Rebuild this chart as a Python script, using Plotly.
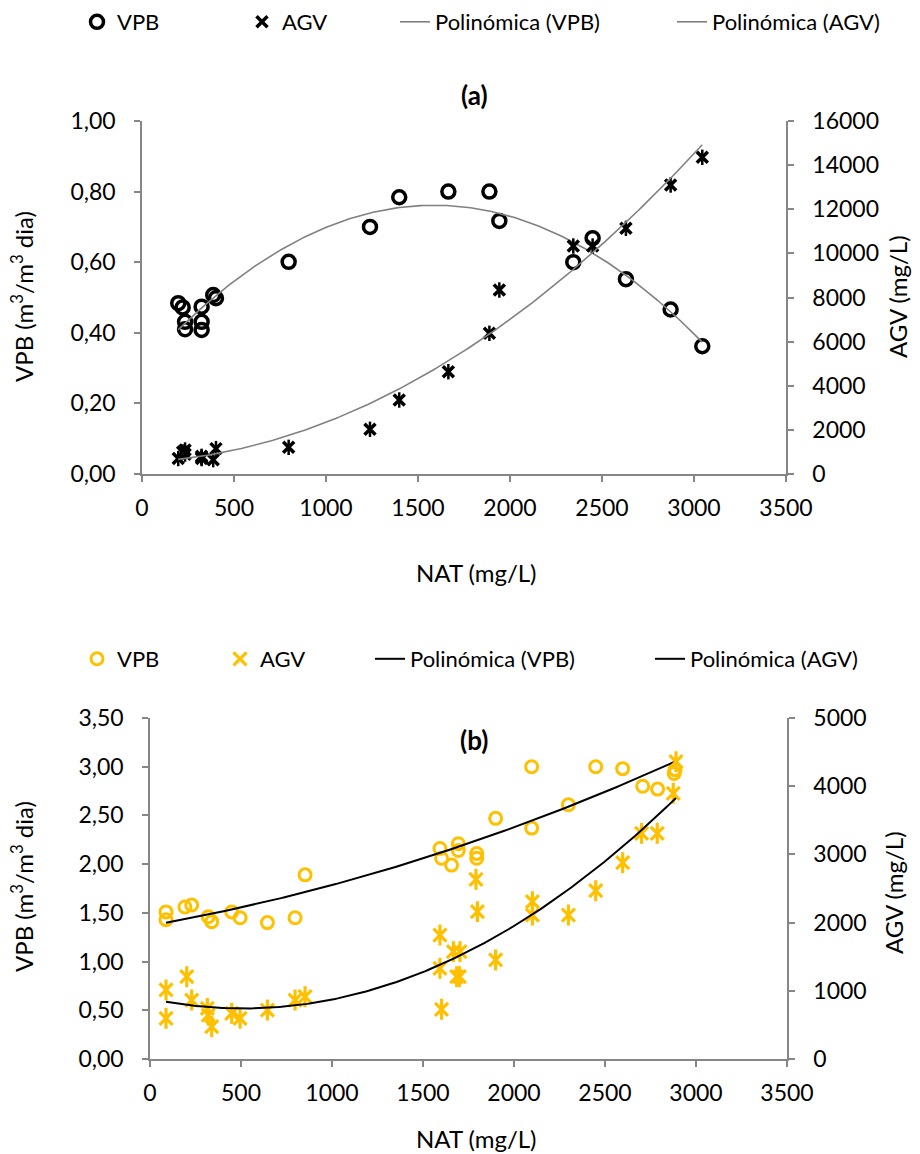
import numpy as np
import plotly.graph_objects as go

# ---------------- data ----------------
# Panel (a)
nat_a = [197, 221, 234, 234, 324, 324, 324, 387, 402, 797, 1239, 1398, 1665,
         1888, 1942, 2344, 2449, 2630, 2873, 3045]
vpb_a = [0.484, 0.472, 0.431, 0.410, 0.474, 0.431, 0.408, 0.507, 0.498, 0.601,
         0.700, 0.784, 0.800, 0.800, 0.717, 0.600, 0.668, 0.552, 0.466, 0.362]
agv_a = [700, 1000, 1088, 900, 800, 750, 700, 650, 1150, 1209, 2026, 3354, 4637,
         6377, 8340, 10334, 10334, 11135, 13099, 14354]

# Panel (b)
nat_b_vpb = [88, 88, 192, 229, 320, 339, 449, 495, 645, 797, 852, 1593, 1602,
             1694, 1694, 1657, 1795, 1795, 1899, 2097, 2097, 2299, 2449, 2597,
             2707, 2789, 2885, 2880]
vpb_b = [1.51, 1.43, 1.56, 1.58, 1.46, 1.41, 1.51, 1.45, 1.40, 1.45, 1.89, 2.16,
         2.06, 2.21, 2.14, 1.99, 2.11, 2.06, 2.47, 3.00, 2.37, 2.61, 3.00, 2.98,
         2.80, 2.77, 2.97, 2.93]
nat_b_agv = [88, 88, 202, 229, 315, 320, 339, 449, 495, 645, 797, 852, 1593, 1593,
             1602, 1667, 1703, 1685, 1700, 1791, 1799, 1899, 2101, 2101, 2299,
             2449, 2597, 2701, 2787, 2875, 2890]
agv_b = [1012, 597, 1207, 865, 743, 645, 474, 670, 597, 718, 865, 914, 1818, 1330,
         729, 1574, 1574, 1207, 1207, 2635, 2160, 1452, 2306, 2111, 2111, 2468,
         2878, 3309, 3309, 3896, 4359]

# ticks
x_ticks = [0, 500, 1000, 1500, 2000, 2500, 3000, 3500]
x_labels = ["0", "500", "1000", "1500", "2000", "2500", "3000", "3500"]
ya_ticks = [0, 0.2, 0.4, 0.6, 0.8, 1.0]
ya_labels = ["0,00", "0,20", "0,40", "0,60", "0,80", "1,00"]
y2a_ticks = [0, 2000, 4000, 6000, 8000, 10000, 12000, 14000, 16000]
y2a_labels = ["0", "2000", "4000", "6000", "8000", "10000", "12000", "14000", "16000"]
yb_ticks = [0, 0.5, 1.0, 1.5, 2.0, 2.5, 3.0, 3.5]
yb_labels = ["0,00", "0,50", "1,00", "1,50", "2,00", "2,50", "3,00", "3,50"]
y2b_ticks = [0, 1000, 2000, 3000, 4000, 5000]
y2b_labels = ["0", "1000", "2000", "3000", "4000", "5000"]

series_names = ["VPB", "AGV", "Polinómica (VPB)", "Polinómica (AGV)"]

# ---------------- styling ----------------
FONT = "Lato"
FS_TICK = 23
FS_LEG = 22
FS_TITLE = 24
W, H = 920, 1154
AX = "#868686"
GOLD = "#FFC000"
TREND_A = "#808080"


def trend(x, y, deg=2):
    c = np.polyfit(x, y, deg)
    xs = np.linspace(min(x), max(x), 200)
    return xs, np.polyval(c, xs)


fig = go.Figure()

# ---- panel (a) ----
fig.add_trace(go.Scatter(x=nat_a, y=vpb_a, mode="markers", name=series_names[0],
                         xaxis="x", yaxis="y", legend="legend",
                         marker=dict(symbol="circle-open", size=13, color="black",
                                     line=dict(width=3.5, color="black"))))
fig.add_trace(go.Scatter(x=nat_a, y=agv_a, mode="markers", name=series_names[1],
                         xaxis="x", yaxis="y2", legend="legend2",
                         marker=dict(symbol="x-thin-open", size=11, color="black",
                                     line=dict(width=3.5, color="black"))))
fig.add_trace(go.Scatter(x=nat_a, y=agv_a, mode="markers", showlegend=False,
                         xaxis="x", yaxis="y2", hoverinfo="skip",
                         marker=dict(symbol="line-ns-open", size=11, color="black",
                                     line=dict(width=2.5, color="black"))))
xs, ys = trend(nat_a, vpb_a)
fig.add_trace(go.Scatter(x=xs, y=ys, mode="lines", name=series_names[2],
                         xaxis="x", yaxis="y", legend="legend3",
                         line=dict(color=TREND_A, width=1.6)))
xs, ys = trend(nat_a, agv_a)
fig.add_trace(go.Scatter(x=xs, y=ys, mode="lines", name=series_names[3],
                         xaxis="x", yaxis="y2", legend="legend4",
                         line=dict(color=TREND_A, width=1.6)))

# ---- panel (b) ----
fig.add_trace(go.Scatter(x=nat_b_vpb, y=vpb_b, mode="markers", name=series_names[0],
                         xaxis="x2", yaxis="y3", legend="legend5",
                         marker=dict(symbol="circle-open", size=12, color=GOLD,
                                     line=dict(width=3, color=GOLD))))
fig.add_trace(go.Scatter(x=nat_b_agv, y=agv_b, mode="markers", name=series_names[1],
                         xaxis="x2", yaxis="y4", legend="legend6",
                         marker=dict(symbol="x-thin-open", size=13, color=GOLD,
                                     line=dict(width=3.2, color=GOLD))))
fig.add_trace(go.Scatter(x=nat_b_agv, y=agv_b, mode="markers", showlegend=False,
                         xaxis="x2", yaxis="y4", hoverinfo="skip",
                         marker=dict(symbol="line-ns-open", size=15, color=GOLD,
                                     line=dict(width=3.2, color=GOLD))))
xs, ys = trend(nat_b_vpb, vpb_b)
fig.add_trace(go.Scatter(x=xs, y=ys, mode="lines", name=series_names[2],
                         xaxis="x2", yaxis="y3", legend="legend7",
                         line=dict(color="black", width=2)))
xs, ys = trend(nat_b_agv, agv_b)
fig.add_trace(go.Scatter(x=xs, y=ys, mode="lines", name=series_names[3],
                         xaxis="x2", yaxis="y4", legend="legend8",
                         line=dict(color="black", width=2)))

tickfont = dict(family=FONT, size=FS_TICK, color="black")
common_ax = dict(showline=True, linecolor=AX, linewidth=1.5, ticks="outside",
                 ticklen=6, tickwidth=1.5, tickcolor=AX, showgrid=False,
                 zeroline=False, tickfont=tickfont, automargin=False,
                 fixedrange=True)

xa_dom = [142 / W, 786 / W]
xb_dom = [150 / W, 787 / W]
ya_dom = [1 - 474 / H, 1 - 121 / H]
yb_dom = [1 - 1059 / H, 1 - 718 / H]

leg_common = dict(orientation="h", bgcolor="rgba(0,0,0,0)", borderwidth=0,
                  font=dict(family=FONT, size=FS_LEG, color="black"),
                  xanchor="left", yanchor="middle", itemclick=False,
                  itemdoubleclick=False)


def leg(xpix, ypix):
    d = dict(leg_common)
    d.update(x=xpix / W, y=1 - ypix / H)
    return d


fig.update_layout(
    width=W, height=H, autosize=False,
    margin=dict(l=0, r=0, t=0, b=0),
    paper_bgcolor="white", plot_bgcolor="white",
    font=dict(family=FONT, size=FS_TICK, color="black"),
    xaxis=dict(common_ax, domain=xa_dom, range=[0, 3500], tickvals=x_ticks,
               ticktext=x_labels, anchor="y", ticklabelstandoff=7),
    yaxis=dict(common_ax, domain=ya_dom, range=[0, 1.0], tickvals=ya_ticks,
               ticktext=ya_labels, anchor="x", ticklabelstandoff=14),
    yaxis2=dict(common_ax, range=[0, 16000], tickvals=y2a_ticks,
                ticktext=y2a_labels, overlaying="y", side="right", anchor="x",
                ticklabelstandoff=14),
    xaxis2=dict(common_ax, domain=xb_dom, range=[0, 3500], tickvals=x_ticks,
                ticktext=x_labels, anchor="y3", ticklabelstandoff=7),
    yaxis3=dict(common_ax, domain=yb_dom, range=[0, 3.5], tickvals=yb_ticks,
                ticktext=yb_labels, anchor="x2", ticklabelstandoff=14),
    yaxis4=dict(common_ax, range=[0, 5000], tickvals=y2b_ticks,
                ticktext=y2b_labels, overlaying="y3", side="right", anchor="x2",
                ticklabelstandoff=14),
    legend=leg(77, 22), legend2=leg(242, 22), legend3=leg(395, 22),
    legend4=leg(672, 22),
    legend5=leg(77, 659), legend6=leg(220, 659), legend7=leg(370, 659),
    legend8=leg(650, 659),
    showlegend=True,
)


def ann(text, xpix, ypix, angle=0, size=FS_TITLE):
    fig.add_annotation(text=text,
                       x=xpix / W, y=1 - ypix / H, xref="paper", yref="paper",
                       xanchor="center", yanchor="middle", showarrow=False,
                       textangle=angle,
                       font=dict(family=FONT, size=size, color="black"))


ann("<b>(a)</b>", 474, 95, size=26)
ann("<b>(b)</b>", 474, 740, size=26)
ann("NAT (mg/L)", 476, 572)
ann("NAT (mg/L)", 476, 1138)
ann("VPB (m<sup>3</sup>/m<sup>3</sup> dia)", 22, 297, angle=-90)
ann("AGV (mg/L)", 897, 297, angle=-90)
ann("VPB (m<sup>3</sup>/m<sup>3</sup> dia)", 22, 887, angle=-90)
ann("AGV (mg/L)", 893, 893, angle=-90)

fig.write_html(
    "out.html",
    config={"displayModeBar": False},
    post_script="document.body.style.margin='0';document.body.style.overflow='hidden';",
)
